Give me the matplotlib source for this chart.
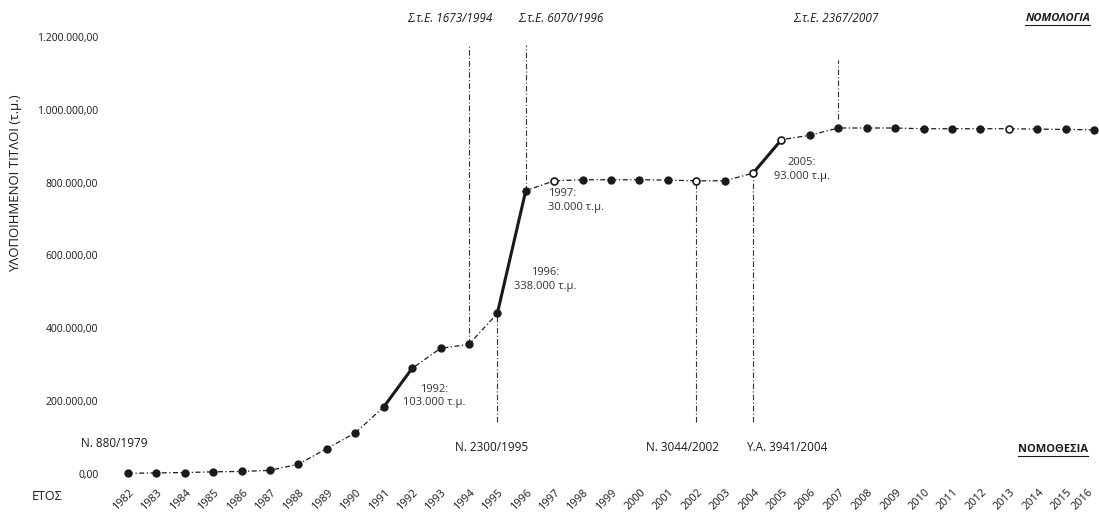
import matplotlib
matplotlib.use("Agg")
import matplotlib.pyplot as plt
from matplotlib.lines import Line2D
from matplotlib.transforms import ScaledTranslation

plt.rcParams['font.family'] = ['Open Sans', 'DejaVu Sans']

# realised titles per year (thousand m2)
years = list(range(1982, 2017))
values_k = [2, 3, 4, 6, 7, 10, 27, 70, 113, 184, 290, 345, 356, 441, 778,
            805, 808, 808, 808, 807, 805, 805, 826, 918, 930, 950, 950, 950,
            948, 948, 948, 948, 947, 946, 945]
values = [v * 1000 for v in values_k]
hollow_years = [1997, 2002, 2004, 2005, 2013]
thick_steps = [(1991, 1992), (1995, 1996), (2004, 2005)]

yticks = [0, 200000, 400000, 600000, 800000, 1000000, 1200000]
ytick_labels = ["0,00", "200.000,00", "400.000,00", "600.000,00",
                "800.000,00", "1.000.000,00", "1.200.000,00"]

# case law (top) and legislation (bottom)
court_years = [1994, 1996, 2007]
court_labels = ["Σ.τ.Ε. 1673/1994", "Σ.τ.Ε. 6070/1996", "Σ.τ.Ε. 2367/2007"]
law_years = [1995, 2002, 2004]
law_labels = ["Ν. 2300/1995", "Ν. 3044/2002", "Υ.Α. 3941/2004"]

step_notes = ["1992:\n103.000 τ.μ.", "1996:\n338.000 τ.μ.",
              "1997:\n30.000 τ.μ.", "2005:\n93.000 τ.μ."]

ink = "#1a1a1a"
val = dict(zip(years, values))

fig = plt.figure(figsize=(10.99, 5.2), dpi=100)
ax = fig.add_axes([108 / 1099, 40 / 520, 991 / 1099, 470 / 520])
ax.set_xlim(1981.296, 2016.176)
ax.set_ylim(-16470, 1274000)
for s in ax.spines.values():
    s.set_visible(False)

# main dash-dot line
ax.plot(years, values, color=ink, lw=0.9, dashes=(4, 2, 1, 2), zorder=2)
for a, b in thick_steps:
    ax.plot([a, b], [val[a], val[b]], color=ink, lw=2.2, zorder=3,
            solid_capstyle='round')

filled = [(y, v) for y, v in zip(years, values) if y not in hollow_years]
open_ = [(y, v) for y, v in zip(years, values) if y in hollow_years]
ax.plot([p[0] for p in filled], [p[1] for p in filled], 'o', ms=5,
        color=ink, zorder=4)
ax.plot([p[0] for p in open_], [p[1] for p in open_], 'o', ms=5,
        mfc='white', mec=ink, mew=1.2, zorder=4)

# vertical marker lines
vline_kw = dict(color="#333333", lw=0.8, dashes=(5, 2, 1, 2), zorder=1)
ax.plot([1994, 1994], [val[1994], 1178000], **vline_kw)
ax.plot([1996, 1996], [val[1996], 1178000], **vline_kw)
ax.plot([2007, 2007], [975000, 1137000], **vline_kw)
for y in law_years:
    ax.plot([y, y], [143000, val[y]], **vline_kw)

# top labels
top_x = [1993.33, 1997.24, 2006.92]
for x, t in zip(top_x, court_labels):
    ax.text(x, 1252000, t, ha='center', va='center', fontsize=8.5,
            style='italic', color=ink)
t_nomol = ax.text(2014.73, 1252000, "ΝΟΜΟΛΟΓΙΑ", ha='center', va='center',
                  fontsize=8, style='italic', fontweight='bold', color=ink)

# bottom labels
bot_x = [1994.81, 2001.53, 2005.2]
for x, t in zip(bot_x, law_labels):
    ax.text(x, 74000, t, ha='center', va='center', fontsize=8.5, color=ink)
ax.text(1981.5, 85000, "Ν. 880/1979", ha='center', va='center',
        fontsize=8.5, color=ink)
t_nomoth = ax.text(2014.56, 66000, "ΝΟΜΟΘΕΣΙΑ", ha='center', va='center',
                   fontsize=8, fontweight='bold', color=ink)

# step notes
note_kw = dict(va='center', fontsize=8, color="#333333", linespacing=1.35)
ax.text(1992.77, 214000, step_notes[0], ha='center', **note_kw)
ax.text(1996.68, 535000, step_notes[1], ha='center', **note_kw)
ax.text(1996.78, 750000, step_notes[2], ha='left', **note_kw)
ax.text(2005.72, 837000, step_notes[3], ha='center', **note_kw)

# axes ticks
ax.set_yticks(yticks)
ax.set_yticklabels(ytick_labels)
ax.set_xticks(years)
ax.set_xticklabels([str(y) for y in years], rotation=45, ha='center',
                   va='center', rotation_mode='anchor')
ax.tick_params(axis='y', length=0, pad=7, labelsize=7.5, labelcolor=ink)
ax.tick_params(axis='x', length=0, pad=14, labelsize=7.8, labelcolor=ink)
xlabels = ax.get_xticklabels()
for i, lbl in enumerate(xlabels):
    dx = -11 if i == len(xlabels) - 1 else -4
    lbl.set_transform(lbl.get_transform() +
                      ScaledTranslation(dx / 100, 0, fig.dpi_scale_trans))

ax.set_ylabel("ΥΛΟΠΟΙΗΜΕΝΟΙ ΤΙΤΛΟΙ (τ.μ.)", fontsize=9.5, color=ink)
ax.yaxis.set_label_coords(-86 / 991, (480 - 183) / 470)
fig.text(47 / 1099, 1 - 497 / 520, "ΕΤΟΣ", ha='center', va='center',
         fontsize=9, color=ink)

# underline the two headings
fig.canvas.draw()
r = fig.canvas.get_renderer()
for t in (t_nomol, t_nomoth):
    bb = t.get_window_extent(r)
    yl = bb.y0 - 1
    fig.add_artist(Line2D([bb.x0 / 1099, bb.x1 / 1099], [yl / 520, yl / 520],
                          color=ink, lw=0.8))

fig.savefig("out.png", dpi=100)
